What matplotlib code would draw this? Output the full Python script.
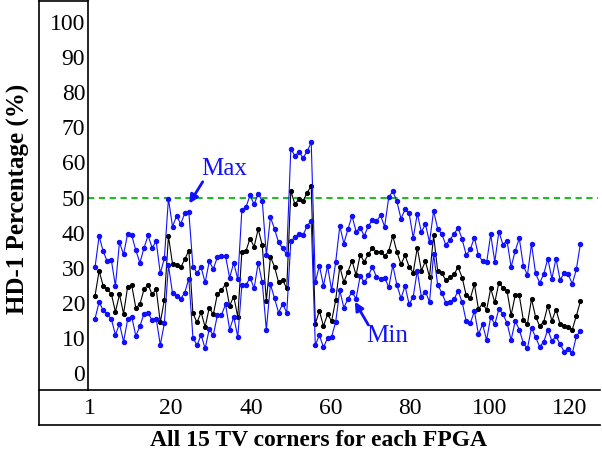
import numpy as np
import matplotlib
matplotlib.use("Agg")
import matplotlib.pyplot as plt
from matplotlib.lines import Line2D

# HD-1 percentage per TV corner (15 corners x 8 FPGAs)
hd_max = [30.1, 39.0, 34.7, 31.8, 32.2, 24.8, 37.3, 33.8, 39.7, 39.2, 35.0, 31.4, 35.6, 39.2, 35.7, 37.5, 28.4, 32.7, 49.7, 41.7, 44.8, 42.5, 45.5, 45.9,
          30.3, 28.6, 30.1, 25.8, 31.8, 29.7, 33.0, 33.4, 33.3, 27.1, 31.4, 26.7, 46.4, 47.3, 50.6, 48.1, 51.1, 49.0, 33.6, 44.4, 41.1, 37.2, 35.5, 33.8,
          63.9, 61.9, 63.0, 61.3, 63.2, 65.7, 25.8, 30.6, 24.9, 30.5, 23.6, 31.6, 41.9, 36.9, 41.0, 44.8, 40.3, 41.4, 39.1, 41.9, 43.6, 43.3, 44.9, 41.7, 50.1,
          51.8, 48.9, 44.0, 46.6, 45.6, 38.5, 45.4, 40.2, 42.4, 37.3, 46.2, 41.1, 39.6, 36.5, 38.0, 39.6, 41.4, 38.1, 33.6, 35.3, 38.6, 33.5, 31.9, 31.5,
          39.5, 31.7, 40.3, 36.6, 37.7, 30.2, 34.8, 38.4, 30.6, 27.9, 36.8, 28.4, 25.7, 28.2, 32.6, 26.9, 32.6, 26.6, 28.4, 28.1, 25.4, 29.6, 36.9]
hd_mean = [22.0, 29.1, 24.9, 23.8, 22.6, 17.4, 22.4, 16.9, 24.6, 25.0, 18.6, 19.6, 23.8, 25.2, 22.4, 23.9, 14.4, 20.8, 39.0, 31.1, 30.8, 30.1, 32.4, 34.9,
           17.0, 14.4, 17.3, 13.1, 18.6, 16.7, 22.5, 23.6, 25.3, 19.2, 21.8, 16.0, 34.6, 34.8, 38.3, 36.0, 41.0, 36.4, 20.5, 33.1, 30.3, 25.8, 26.5, 24.1,
           51.9, 48.1, 49.6, 49.0, 51.4, 53.3, 14.0, 17.7, 13.4, 16.7, 14.8, 20.8, 30.3, 25.9, 28.9, 32.0, 27.9, 33.7, 31.7, 33.8, 35.7, 34.6, 34.6, 33.3, 34.7,
           39.1, 34.5, 31.0, 33.5, 30.3, 28.6, 35.7, 29.2, 31.8, 27.4, 39.2, 29.1, 28.4, 26.5, 27.3, 28.1, 30.2, 27.2, 22.1, 21.3, 25.3, 18.2, 19.8, 18.0,
           24.1, 20.1, 25.7, 24.3, 23.4, 16.5, 22.1, 22.1, 15.1, 14.0, 21.1, 16.0, 13.4, 14.6, 19.2, 14.9, 18.1, 14.0, 13.4, 13.2, 12.4, 16.3, 20.5]
hd_min = [15.5, 20.2, 17.9, 16.7, 15.4, 10.9, 14.0, 8.9, 15.3, 16.0, 10.6, 13.3, 16.9, 17.1, 15.0, 15.5, 8.0, 14.2, 30.7, 22.7, 22.0, 21.1, 22.9, 26.9,
          10.1, 7.9, 10.8, 7.0, 12.5, 10.8, 16.5, 16.5, 19.6, 12.4, 16.0, 10.3, 25.1, 25.0, 27.2, 24.1, 31.4, 25.8, 12.3, 25.3, 21.3, 17.2, 19.7, 17.2,
          37.5, 38.7, 39.5, 39.3, 41.9, 43.4, 7.9, 10.8, 7.3, 9.9, 10.3, 14.6, 23.6, 18.6, 21.2, 23.0, 21.2, 27.7, 25.8, 27.8, 30.2, 27.4, 26.8, 27.2, 24.4,
          30.7, 25.1, 21.3, 24.8, 19.6, 21.7, 29.2, 21.7, 23.2, 20.2, 33.9, 25.1, 22.9, 20.0, 20.3, 21.0, 23.4, 20.2, 14.7, 14.2, 17.6, 11.0, 13.9, 9.4,
          16.0, 13.9, 18.2, 16.8, 14.2, 9.4, 14.8, 12.4, 8.5, 7.0, 12.9, 10.2, 7.5, 8.9, 12.4, 9.1, 10.5, 8.2, 6.1, 6.9, 5.6, 10.5, 12.0]
corners = np.arange(1, len(hd_max) + 1)
threshold = 50

yticks = list(range(0, 101, 10))
xtick_labels = ["1", "20", "40", "60", "80", "100", "120"]
xtick_pos = [-0.2, 19.6, 39.2, 58.8, 78.2, 97.8, 117.4]   # labels were hand-placed in the original

plt.rcParams['font.family'] = ['Liberation Serif', 'DejaVu Serif']

W, H = 602, 458
fig = plt.figure(figsize=(W / 100, H / 100), dpi=100)
ax = fig.add_axes([88 / W, (H - 390) / H, (598 - 88) / W, 390 / H])

blue = "#1010ff"
ax.plot(corners, hd_mean, color="black", lw=0.8, marker="o", ms=2.7, zorder=3)
ax.plot(corners, hd_min, color=blue, lw=0.8, marker="o", ms=2.9, zorder=4)
ax.plot(corners, hd_max, color=blue, lw=0.8, marker="o", ms=2.9, zorder=4)
ax.axhline(threshold, color="#22bb22", lw=1.5, ls=(0, (3, 2.2)), zorder=2)

ax.set_xlim(-0.72, 124.3)
ax.set_ylim(-4.84, 106.3)
ax.set_yticks(yticks)
ax.set_yticklabels([str(t) for t in yticks], fontsize=17)
ax.set_xticks(xtick_pos)
ax.set_xticklabels(xtick_labels, fontsize=17)
ax.tick_params(axis="y", length=0, pad=2)
ax.tick_params(axis="x", length=0, pad=6)
for side in ["top", "right", "bottom"]:
    ax.spines[side].set_visible(False)
ax.spines["left"].set_linewidth(1.2)

arrow = dict(arrowstyle="-|>,head_length=0.5,head_width=0.25", color=blue, lw=2,
             shrinkA=0, shrinkB=0)
ax.annotate("", xy=(24.1, 48.3), xytext=(27.4, 54.5), arrowprops=arrow)
ax.text(32.7, 58.1, "Max", color=blue, fontsize=18, ha="center", va="center")
ax.annotate("", xy=(64.7, 20.3), xytext=(68.0, 13.7), arrowprops=arrow)
ax.text(72.7, 10.5, "Min", color=blue, fontsize=18, ha="center", va="center")

# table-like frame around the tick labels
def px_line(x0, y0, x1, y1):
    fig.add_artist(Line2D([x0 / W, x1 / W], [1 - y0 / H, 1 - y1 / H],
                          color="black", lw=1.2, transform=fig.transFigure))

px_line(39, 0.8, 88, 0.8)
px_line(39, 0, 39, 425)
px_line(39, 390, 600, 390)
px_line(39, 425, 600, 425)

fig.text(18 / W, 1 - 199 / H, "HD-1 Percentage (%)", rotation=90, fontsize=18,
         fontweight="bold", ha="center", va="center")
fig.text(318 / W, 1 - 441 / H, "All 15 TV corners for each FPGA", fontsize=17,
         fontweight="bold", ha="center", va="center")

fig.savefig("out.png", dpi=100)
